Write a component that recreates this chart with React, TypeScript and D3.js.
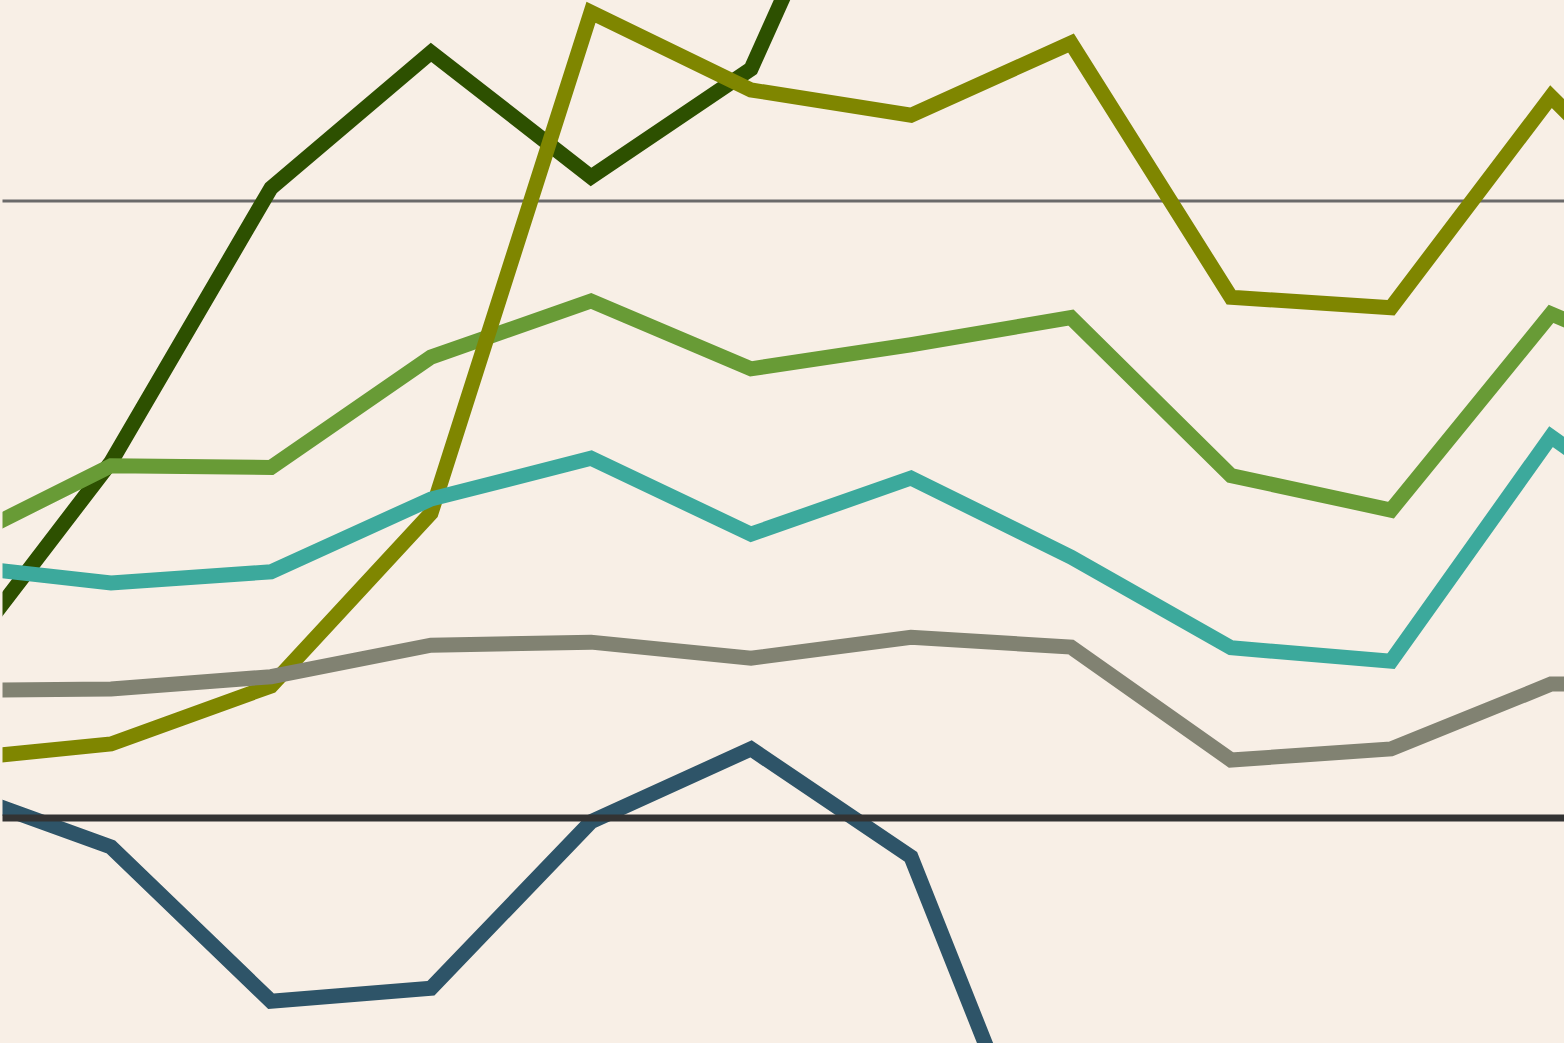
import React from "react";
import * as d3 from "d3";

// Periods (x categories); first and last sit just outside the visible frame
const periods = ["0", "1", "2", "3", "4", "5", "6", "7", "8", "9", "10", "11"];

// Series values (baseline = 0, upper gridline = 10)
const darkGreen = [2.38, 5.77, 10.21, 12.41, 10.39, 12.14, 17.91];
const olive = [0.94, 1.2, 2.14, 4.94, 13.06, 11.8, 11.39, 12.56, 8.44, 8.27, 11.69, 9.12];
const midGreen = [4.41, 5.71, 5.68, 7.47, 8.38, 7.28, 7.67, 8.11, 5.55, 4.99, 8.17, 7.1];
const teal = [4.1, 3.81, 3.99, 5.17, 5.83, 4.6, 5.51, 4.23, 2.76, 2.54, 6.18, 4.34];
const grey = [2.07, 2.09, 2.29, 2.8, 2.85, 2.59, 2.93, 2.77, 0.94, 1.12, 2.17, 2.19];
const navy = [0.47, -0.47, -2.97, -2.76, -0.06, 1.12, -0.63, -7.15];

const gridValues = [10];

const series = [
  { name: "darkGreen", values: darkGreen, color: "#2d5000" },
  { name: "midGreen", values: midGreen, color: "#689b36" },
  { name: "olive", values: olive, color: "#7f8600" },
  { name: "teal", values: teal, color: "#3ca99c" },
  { name: "grey", values: grey, color: "#818272" },
  { name: "navy", values: navy, color: "#2e5468" },
];

const W = 1564;
const H = 1043;

export default function App() {
  const x = d3.scalePoint<string>().domain(periods).range([-49, 1711]);
  const y = d3.scaleLinear().domain([0, 10]).range([818, 201]);

  const line = d3
    .line<number>()
    .x((_, i) => x(periods[i]) as number)
    .y((d) => y(d));

  return (
    <div style={{ position: "absolute", left: 0, top: 0 }}>
      <svg width={W} height={H} style={{ display: "block" }}>
        <defs>
          <clipPath id="plot-clip">
            <rect x={2.5} y={0} width={W} height={H} />
          </clipPath>
        </defs>
        <rect width={W} height={H} fill="#f8efe6" />
        <g clipPath="url(#plot-clip)">
          {gridValues.map((v) => (
            <line
              key={v}
              x1={0}
              x2={W}
              y1={y(v)}
              y2={y(v)}
              stroke="#6b6a6a"
              strokeWidth={2.8}
            />
          ))}
          {series.map((s) => (
            <path
              key={s.name}
              d={line(s.values) ?? ""}
              fill="none"
              stroke={s.color}
              strokeWidth={15}
              strokeLinejoin="miter"
              strokeMiterlimit={10}
            />
          ))}
          <line
            x1={0}
            x2={W}
            y1={y(0)}
            y2={y(0)}
            stroke="#333333"
            strokeWidth={7}
          />
        </g>
      </svg>
    </div>
  );
}
